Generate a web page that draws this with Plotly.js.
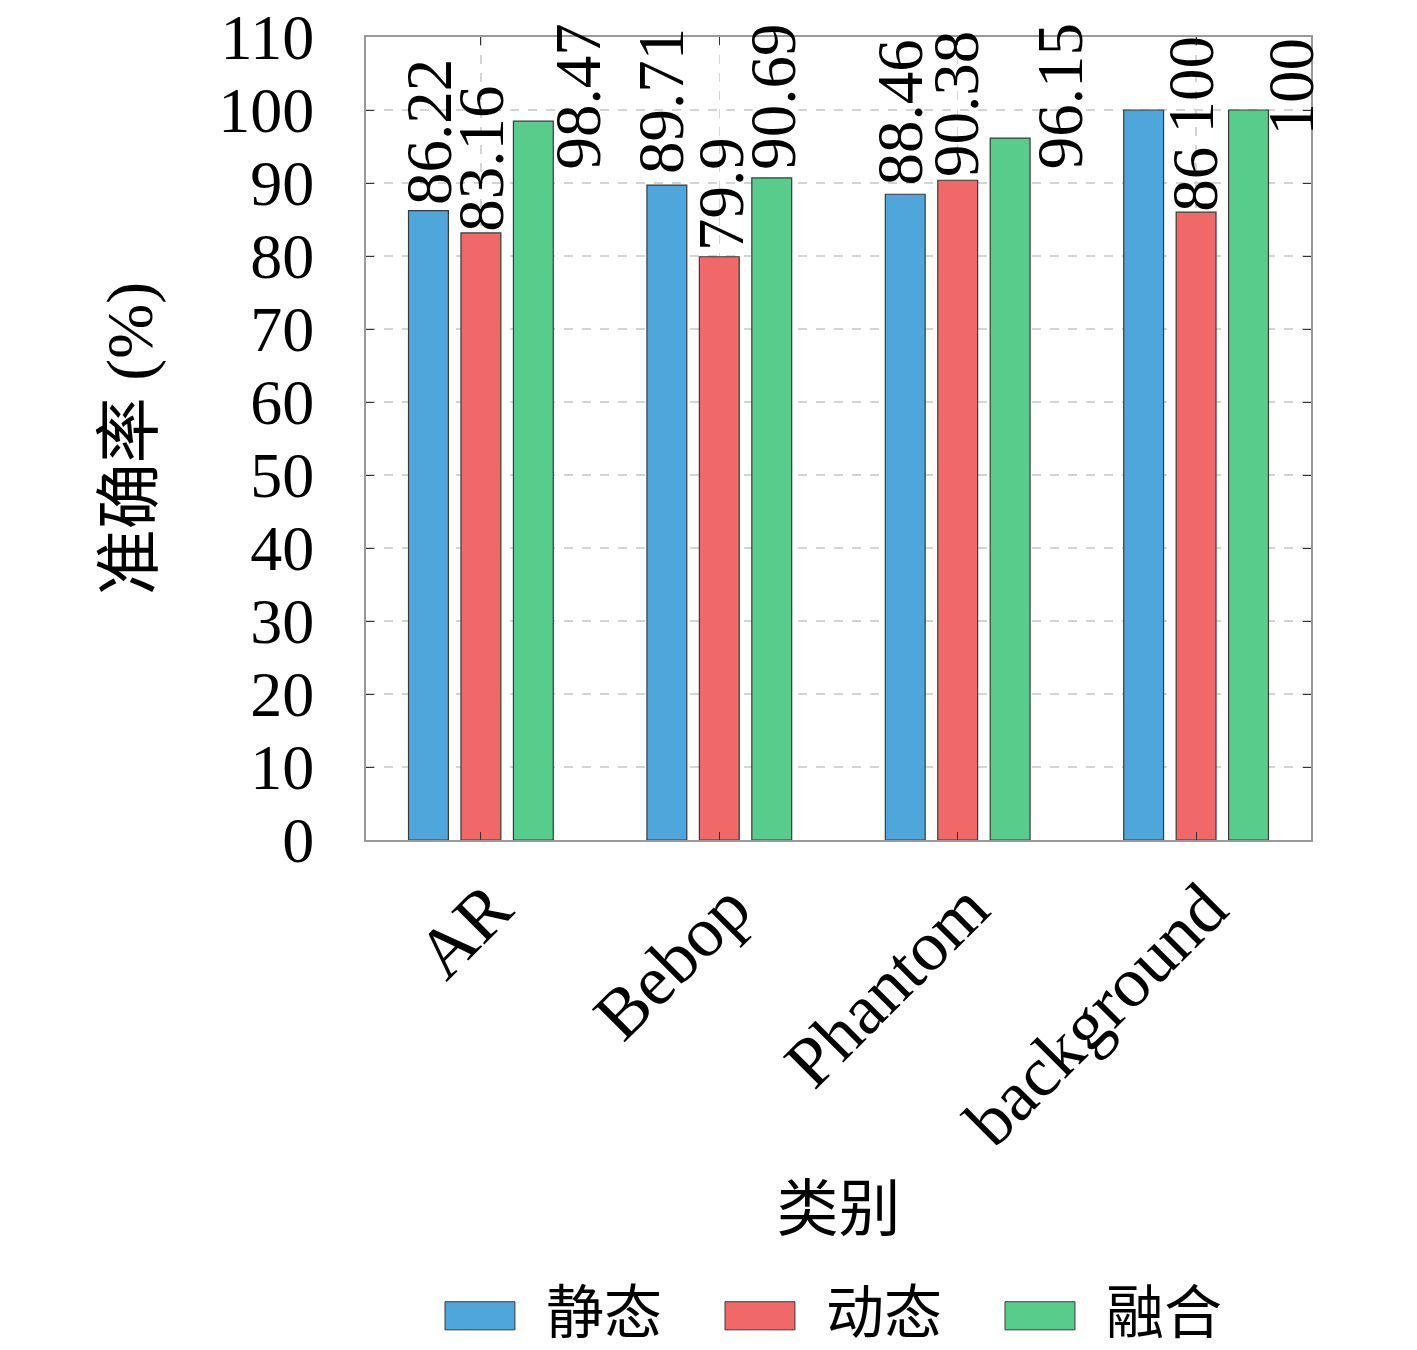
<!DOCTYPE html>
<html>
<head>
<meta charset="utf-8">
<script src="https://cdn.plot.ly/plotly-3.0.1.min.js"></script>
<style>
  body { margin: 0; background: #fff; }
  #chart { width: 1417px; height: 1350px; }
</style>
</head>
<body>
<div id="chart"></div>
<script>
// categories and series
const categories = ['AR', 'Bebop', 'Phantom', 'background'];
const seriesNames = ['静态', '动态', '融合'];
const staticVals = [86.22, 89.71, 88.46, 100];
const dynamicVals = [83.16, 79.9, 90.38, 86];
const fusedVals = [98.47, 90.69, 96.15, 100];
const yTicks = [0, 10, 20, 30, 40, 50, 60, 70, 80, 90, 100, 110];

const colors = ['#4ea6da', '#f06868', '#58cc8b'];
const serif = 'Liberation Serif, Noto Sans CJK SC, serif';

// label nudges (px) so the value texts sit where the original put them
const slot = 52.5;
const labelDx = [[0, -6, -5, 47], [0, 1, -1, -1], [45, 1, 50, 42]];
const labelDy = [[4, 9, 7, -26], [-1, 4, 1, -2], [-50, 6, -33, -28]];

const allVals = [staticVals, dynamicVals, fusedVals];

let traces = allVals.map((vals, i) => ({
  type: 'bar',
  name: seriesNames[i],
  x: categories,
  y: vals,
  marker: {color: colors[i], line: {color: '#3a3a3a', width: 1.2}},
  showlegend: false,
  hoverinfo: 'x+y'
}));

// value labels, vertical
let annotations = [];
allVals.forEach((vals, i) => {
  vals.forEach((v, j) => {
    annotations.push({
      x: categories[j], y: v, xref: 'x', yref: 'y',
      text: String(v), showarrow: false, textangle: -90,
      xanchor: 'center', yanchor: 'bottom',
      xshift: (i - 1) * slot + labelDx[i][j],
      yshift: labelDy[i][j],
      font: {family: serif, size: 65, color: '#000'}
    });
  });
});

// legend drawn by hand so the swatches match the wide boxes of the original
let shapes = [];
const legX = [0.0836, 0.3799, 0.6762];
seriesNames.forEach((n, i) => {
  shapes.push({
    type: 'rect', xref: 'paper', yref: 'paper',
    x0: legX[i], x1: legX[i] + 0.074, y0: -0.610, y1: -0.575,
    fillcolor: colors[i], line: {color: '#3a3a3a', width: 1}
  });
  annotations.push({
    x: legX[i] + 0.105, y: -0.583, xref: 'paper', yref: 'paper',
    text: n, showarrow: false, xanchor: 'left', yanchor: 'middle',
    font: {family: 'Noto Sans CJK SC', size: 58, color: '#000'}
  });
});

const layout = {
  width: 1417,
  height: 1350,
  margin: {l: 366, r: 106, t: 37, b: 510},
  paper_bgcolor: '#fff',
  plot_bgcolor: '#fff',
  barmode: 'group',
  bargap: 0.34,
  bargroupgap: 0.24,
  font: {family: serif, color: '#000'},
  xaxis: {
    range: [-0.482, 3.482],
    tickangle: -45,
    tickfont: {family: serif, size: 71},
    ticks: 'inside', ticklen: 8, tickcolor: '#333',
    showline: true, linecolor: '#999', linewidth: 2, mirror: 'ticks',
    showgrid: true, gridcolor: '#d4d4d4', griddash: 'dash', gridwidth: 1.5,
    ticklabelstandoff: -4,
    ticklabelshift: 10,
    automargin: false,
    title: {text: '类别', font: {family: 'Noto Sans CJK SC', size: 62}, standoff: 28}
  },
  yaxis: {
    range: [0, 110],
    tickvals: yTicks,
    tickfont: {family: serif, size: 64},
    ticks: 'inside', ticklen: 8, tickcolor: '#333',
    showline: true, linecolor: '#999', linewidth: 2, mirror: 'ticks',
    showgrid: true, gridcolor: '#d4d4d4', griddash: 'dash', gridwidth: 1.5,
    zeroline: false,
    ticklabelstandoff: 37,
    automargin: false,
    title: {text: '准确率 (%)', font: {family: serif, size: 66}, standoff: 44}
  },
  annotations: annotations,
  shapes: shapes
};

Plotly.newPlot('chart', traces, layout, {displayModeBar: false, staticPlot: true});
</script>
</body>
</html>
